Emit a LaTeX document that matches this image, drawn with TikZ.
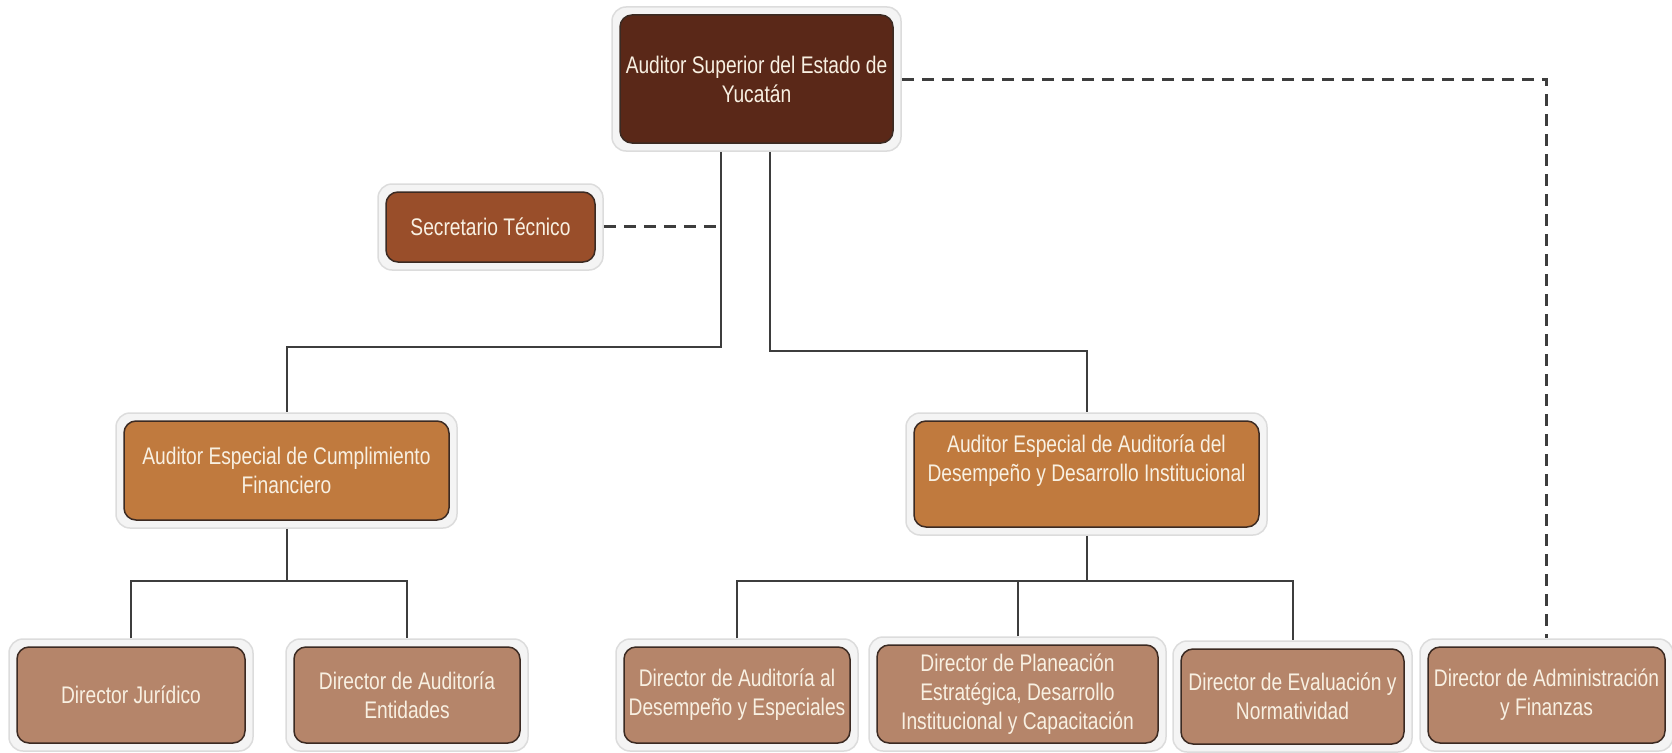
\documentclass[tikz,border=0pt]{standalone}
\usepackage{fontspec}
\setmainfont{Liberation Sans}[FakeStretch=0.80]
\usetikzlibrary{calc}
\definecolor{halofill}{HTML}{F4F4F4}
\definecolor{haloline}{HTML}{DCDCDC}
\definecolor{boxline}{HTML}{3B2A22}
\definecolor{ctop}{HTML}{5A2818}
\definecolor{csec}{HTML}{994E2A}
\definecolor{cesp}{HTML}{C07A3E}
\definecolor{cdir}{HTML}{B5856A}
\definecolor{ctext}{HTML}{F8F0E2}
\definecolor{conn}{HTML}{3D3D3D}
\begin{document}
\begin{tikzpicture}[x=1pt,y=-1pt,
  halo/.style={draw=haloline, fill=halofill, line width=1.5pt, rounded corners=14pt, inner sep=0pt},
  orgbox/.style={draw=boxline, line width=1.5pt, rounded corners=12pt, inner sep=0pt},
  lbl/.style={text=ctext, font=\fontsize{24}{29}\selectfont, align=center, inner sep=0pt},
  solidconn/.style={draw=conn, line width=2pt},
  dashconn/.style={draw=conn, line width=3pt, dash pattern=on 12pt off 8pt}]
\useasboundingbox (0,0) rectangle (1672,752);
% halos (named, used by connectors)
\node[halo, minimum width=289pt, minimum height=144pt] (T) at (756.5,79) {};
\node[halo, minimum width=225pt, minimum height=86pt] (S) at (490.5,227) {};
\node[halo, minimum width=341pt, minimum height=115pt] (A) at (286.5,470.5) {};
\node[halo, minimum width=361pt, minimum height=122pt] (B) at (1086.5,474) {};
\node[halo, minimum width=244pt, minimum height=112pt] (DJ) at (131,695) {};
\node[halo, minimum width=242pt, minimum height=112pt] (DAE) at (407,695) {};
\node[halo, minimum width=242pt, minimum height=112pt] (DADE) at (737,695) {};
\node[halo, minimum width=297pt, minimum height=114pt] (DPE) at (1017.5,694) {};
\node[halo, minimum width=239pt, minimum height=111pt] (DEN) at (1292.5,696.5) {};
\node[halo, minimum width=253pt, minimum height=112pt] (DAF) at (1546.5,695) {};
% inner boxes
\node[orgbox, fill=ctop, minimum width=273pt, minimum height=128pt] (Ti) at (T) {};
\node[orgbox, fill=csec, minimum width=209pt, minimum height=70pt] (Si) at (S) {};
\node[orgbox, fill=cesp, minimum width=325pt, minimum height=99pt] (Ai) at (A) {};
\node[orgbox, fill=cesp, minimum width=345pt, minimum height=106pt] (Bi) at (B) {};
\node[orgbox, fill=cdir, minimum width=228pt, minimum height=96pt] (DJi) at (DJ) {};
\node[orgbox, fill=cdir, minimum width=226pt, minimum height=96pt] (DAEi) at (DAE) {};
\node[orgbox, fill=cdir, minimum width=226pt, minimum height=96pt] (DADEi) at (DADE) {};
\node[orgbox, fill=cdir, minimum width=281pt, minimum height=98pt] (DPEi) at (DPE) {};
\node[orgbox, fill=cdir, minimum width=223pt, minimum height=95pt] (DENi) at (DEN) {};
\node[orgbox, fill=cdir, minimum width=237pt, minimum height=96pt] (DAFi) at (DAF) {};
% labels
\node[lbl] (Tl) at (T) {Auditor Superior del Estado de\\Yucatán};
\node[lbl] (Sl) at (S) {Secretario Técnico};
\node[lbl] (Al) at (A) {Auditor Especial de Cumplimiento\\Financiero};
\node[lbl] (Bl) at ($(B)+(0,-13.5)$) {Auditor Especial de Auditoría del\\Desempeño y Desarrollo Institucional};
\node[lbl] (DJl) at (DJ) {Director Jurídico};
\node[lbl] (DAEl) at (DAE) {Director de Auditoría\\Entidades};
\node[lbl] (DADEl) at (DADE) {Director de Auditoría al\\Desempeño y Especiales};
\node[lbl] (DPEl) at (DPE) {Director de Planeación\\Estratégica, Desarrollo\\Institucional y Capacitación};
\node[lbl] (DENl) at (DEN) {Director de Evaluación y\\Normatividad};
\node[lbl] (DAFl) at (DAF) {Director de Administración\\y Finanzas};
% junction coordinates
\coordinate (jl) at (721,347);
\coordinate (jr) at (770,351);
\coordinate (js) at (721,226);
\coordinate (ja) at (286.5,581);
\coordinate (jb) at (1086.5,581);
% solid connectors
\draw[solidconn] (jl |- T.south) -- (jl) -| (A.north);
\draw[solidconn] (jr |- T.south) -- (jr) -| (B.north);
\draw[solidconn] (A.south) -- (ja);
\draw[solidconn] (DJ.north) |- (ja) -| (DAE.north);
\draw[solidconn] (B.south) -- (jb);
\draw[solidconn] (DADE.north) |- (jb) -| (DEN.north);
\draw[solidconn] (DPE.north) -- (DPE.north |- jb);
% dashed connectors
\draw[dashconn] (S.east |- js) -- (js);
\draw[dashconn] (T.east) -| (DAF.north);
\end{tikzpicture}
\end{document}
